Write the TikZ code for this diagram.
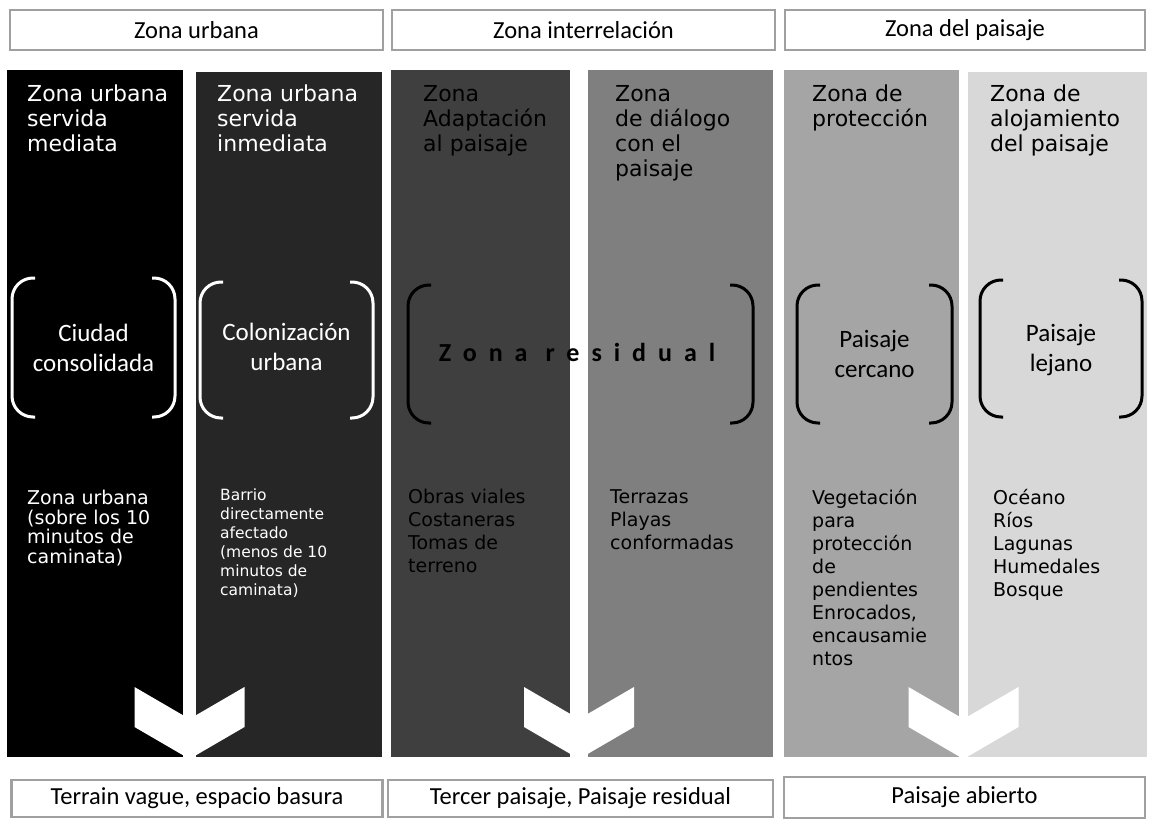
\documentclass[tikz,border=0pt]{standalone}
\usepackage{fontspec}
\setmainfont{DejaVu Sans}
\newfontfamily\carfont{Carlito}
\newfontfamily\espfont[LetterSpace=46]{Carlito}
\definecolor{franjaA}{HTML}{000000}
\definecolor{franjaB}{HTML}{262626}
\definecolor{franjaC}{HTML}{3F3F3F}
\definecolor{franjaD}{HTML}{7F7F7F}
\definecolor{franjaE}{HTML}{A5A5A5}
\definecolor{franjaF}{HTML}{D8D8D8}
\definecolor{borde}{HTML}{A0A0A0}
\tikzset{
  zona/.style={draw=borde, line width=2.5pt, fill=white, inner sep=0,
    font=\carfont\fontsize{24.5}{28}\selectfont},
  titulo/.style={anchor=north west, inner sep=0, align=left,
    font=\fontsize{22}{25}\selectfont},
  nota/.style={anchor=north west, inner sep=0, align=left,
    font=\fontsize{19}{23}\selectfont},
  rotulo/.style={inner sep=0, align=center,
    font=\carfont\fontsize{25}{30}\selectfont},
  corchete/.style={line width=3pt, rounded corners=21pt}
}
\begin{document}
\begin{tikzpicture}[x=1pt,y=-1pt]
\fill[white] (0,0) rectangle (1149,819);
\useasboundingbox (0,0) rectangle (1149,819);
\foreach \xa/\xt/\xb/\tono in {7/70/183/franjaA,196/72/382/franjaB,391/70/570/franjaC,
  588/70/773/franjaD,784/70/959/franjaE,968/72/1147/franjaF}
  \fill[\tono] (\xa,\xt) rectangle (\xb,757);
\foreach \cx in {189.5,579,963.5}
  \fill[white] (\cx-55,687) -- (\cx,719) -- (\cx+55,687) -- (\cx+55,727)
    -- (\cx,759) -- (\cx-55,727) -- cycle;
\foreach \xl/\xr/\yt/\yb/\tinta in {12/175/278/417/white,200/373/282/418/white,
  408/753/285/423/black,797/952/285/423/black,980/1142/280/417/black}
{
  \draw[corchete,\tinta] (\xl+23,\yt) -- (\xl,\yt) -- (\xl,\yb) -- (\xl+23,\yb);
  \draw[corchete,\tinta] (\xr-23,\yt) -- (\xr,\yt) -- (\xr,\yb) -- (\xr-23,\yb);
}
\node[titulo,white] (t1) at (27,85) {Zona urbana\\servida\\mediata};
\node[titulo,white] (t2) at (217,85) {Zona urbana\\servida\\inmediata};
\node[titulo] (t3) at (423,85) {Zona\\Adaptación\\al paisaje};
\node[titulo] (t4) at (615,85) {Zona\\de diálogo\\con el\\paisaje};
\node[titulo] (t5) at (812,85) {Zona de\\protección};
\node[titulo] (t6) at (990,85) {Zona de\\alojamiento\\del paisaje};
\node[rotulo,white] (ciudad) at (93.5,347.5) {Ciudad\\consolidada};
\node[rotulo,white] (colonia) at (286.5,347) {Colonización\\urbana};
\node[inner sep=0,font=\espfont\bfseries\fontsize{26}{30}\selectfont] (residual)
  at (577,352) {Zona\hspace{18pt}residual};
\node[rotulo] (cercano) at (874.5,353.5) {Paisaje\\cercano};
\node[rotulo] (lejano) at (1061,350) {Paisaje\\lejano};
\node[nota,white,font=\fontsize{19}{19.5}\selectfont] (d1) at (27,490)
  {Zona urbana\\(sobre los 10\\minutos de\\caminata)};
\node[nota,white,font=\fontsize{15.5}{19}\selectfont] (d2) at (220,489)
  {Barrio\\directamente\\afectado\\(menos de 10\\minutos de\\caminata)};
\node[nota] (d3) at (408,489) {Obras viales\\Costaneras\\Tomas de\\terreno};
\node[nota] (d4) at (610,489) {Terrazas\\Playas\\conformadas};
\node[nota] (d5) at (812,489) {Vegetación\\para\\protección\\de\\pendientes\\Enrocados,\\encausamie\\ntos};
\node[nota] (d6) at (993,489) {Océano\\Ríos\\Lagunas\\Humedales\\Bosque};
\node[zona,minimum width=373,minimum height=40] (z1) at (196.5,30) {Zona urbana};
\node[zona,minimum width=383,minimum height=40] (z2) at (583.5,30) {Zona interrelación};
\node[zona,minimum width=360,minimum height=40] (z3) at (965,30) {Zona del paisaje};
\node[zona,minimum width=371,minimum height=37] (b1) at (197,798.5) {Terrain vague, espacio basura};
\node[zona,minimum width=385,minimum height=37] (b2) at (580.5,798.5) {Tercer paisaje, Paisaje residual};
\node[zona,minimum width=361,minimum height=41] (b3) at (964.5,797.5) {Paisaje abierto};
\end{tikzpicture}
\end{document}
